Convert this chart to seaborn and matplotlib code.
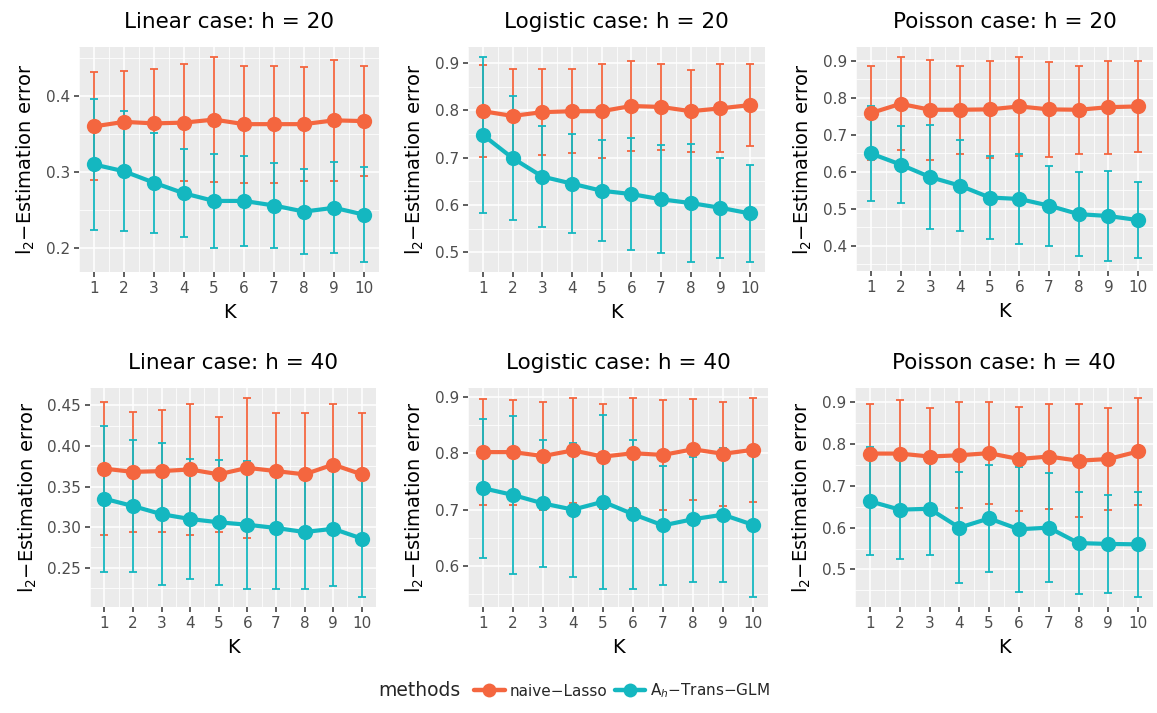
import numpy as np
import pandas as pd
import matplotlib
matplotlib.use("Agg")
import matplotlib.pyplot as plt
import seaborn as sns
from matplotlib.ticker import MultipleLocator, FormatStrFormatter
from matplotlib.lines import Line2D

# ---------------- data ----------------
K = [1, 2, 3, 4, 5, 6, 7, 8, 9, 10]
methods = ["naive\u2212Lasso", r"$\mathrm{A}_h$" + "\u2212Trans\u2212GLM"]

lin20_lasso_mean = [0.360, 0.366, 0.364, 0.365, 0.369, 0.363, 0.363, 0.363, 0.368, 0.367]
lin20_lasso_sd   = [0.071, 0.067, 0.072, 0.077, 0.082, 0.077, 0.077, 0.075, 0.080, 0.072]
lin20_trans_mean = [0.310, 0.301, 0.286, 0.272, 0.262, 0.262, 0.256, 0.248, 0.253, 0.244]
lin20_trans_sd   = [0.086, 0.079, 0.066, 0.058, 0.062, 0.059, 0.056, 0.056, 0.060, 0.062]

log20_lasso_mean = [0.798, 0.788, 0.796, 0.798, 0.798, 0.809, 0.807, 0.798, 0.804, 0.811]
log20_lasso_sd   = [0.097, 0.099, 0.091, 0.089, 0.099, 0.095, 0.090, 0.087, 0.093, 0.086]
log20_trans_mean = [0.748, 0.699, 0.660, 0.645, 0.630, 0.623, 0.612, 0.604, 0.594, 0.582]
log20_trans_sd   = [0.164, 0.131, 0.107, 0.104, 0.107, 0.118, 0.114, 0.124, 0.105, 0.102]

poi20_lasso_mean = [0.758, 0.783, 0.767, 0.767, 0.768, 0.776, 0.768, 0.767, 0.774, 0.776]
poi20_lasso_sd   = [0.128, 0.126, 0.135, 0.119, 0.132, 0.133, 0.129, 0.119, 0.126, 0.124]
poi20_trans_mean = [0.649, 0.619, 0.585, 0.562, 0.530, 0.526, 0.508, 0.485, 0.480, 0.469]
poi20_trans_sd   = [0.128, 0.105, 0.141, 0.122, 0.113, 0.122, 0.108, 0.113, 0.121, 0.102]

lin40_lasso_mean = [0.372, 0.368, 0.369, 0.371, 0.365, 0.373, 0.369, 0.365, 0.377, 0.365]
lin40_lasso_sd   = [0.082, 0.074, 0.075, 0.081, 0.071, 0.086, 0.072, 0.076, 0.074, 0.075]
lin40_trans_mean = [0.335, 0.326, 0.316, 0.310, 0.306, 0.303, 0.299, 0.294, 0.298, 0.286]
lin40_trans_sd   = [0.090, 0.081, 0.087, 0.074, 0.077, 0.079, 0.075, 0.070, 0.071, 0.072]

log40_lasso_mean = [0.802, 0.802, 0.795, 0.805, 0.794, 0.800, 0.797, 0.807, 0.799, 0.806]
log40_lasso_sd   = [0.094, 0.093, 0.096, 0.093, 0.093, 0.098, 0.097, 0.090, 0.092, 0.092]
log40_trans_mean = [0.738, 0.726, 0.711, 0.700, 0.714, 0.692, 0.672, 0.683, 0.691, 0.673]
log40_trans_sd   = [0.123, 0.140, 0.112, 0.119, 0.154, 0.132, 0.106, 0.111, 0.119, 0.128]

poi40_lasso_mean = [0.777, 0.777, 0.770, 0.773, 0.778, 0.764, 0.770, 0.760, 0.764, 0.782]
poi40_lasso_sd   = [0.118, 0.128, 0.116, 0.127, 0.122, 0.125, 0.125, 0.135, 0.122, 0.128]
poi40_trans_mean = [0.663, 0.643, 0.645, 0.600, 0.622, 0.596, 0.600, 0.563, 0.561, 0.560]
poi40_trans_sd   = [0.129, 0.118, 0.110, 0.133, 0.127, 0.149, 0.130, 0.121, 0.117, 0.126]

titles = ["Linear case: h = 20", "Logistic case: h = 20", "Poisson case: h = 20",
          "Linear case: h = 40", "Logistic case: h = 40", "Poisson case: h = 40"]

panels = [
    (lin20_lasso_mean, lin20_lasso_sd, lin20_trans_mean, lin20_trans_sd),
    (log20_lasso_mean, log20_lasso_sd, log20_trans_mean, log20_trans_sd),
    (poi20_lasso_mean, poi20_lasso_sd, poi20_trans_mean, poi20_trans_sd),
    (lin40_lasso_mean, lin40_lasso_sd, lin40_trans_mean, lin40_trans_sd),
    (log40_lasso_mean, log40_lasso_sd, log40_trans_mean, log40_trans_sd),
    (poi40_lasso_mean, poi40_lasso_sd, poi40_trans_mean, poi40_trans_sd),
]

# ---------------- style ----------------
sns.set_theme(style="darkgrid", rc={
    "axes.facecolor": "#EBEBEB",
    "grid.color": "white",
    "xtick.bottom": True,
    "ytick.left": True,
})
plt.rcParams["font.family"] = ["DejaVu Sans"]
plt.rcParams["mathtext.fontset"] = "dejavusans"

colors = ["#F4663F", "#14B7C0"]
palette = dict(zip(methods, colors))

W, H = 1157, 713
fig = plt.figure(figsize=(W / 100, H / 100), dpi=100)
fig.patch.set_facecolor("white")

# panel rectangles in pixels: x0, x1, y0(top), y1(bottom)
rects = [(79, 379, 47, 272), (468, 765, 47, 272), (856, 1153, 47, 271),
         (90, 376, 388, 607), (468, 768, 388, 607), (855, 1153, 388, 607)]
ysteps = [0.1, 0.1, 0.1, 0.05, 0.1, 0.1]
yfmts = ["%.1f", "%.1f", "%.1f", "%.2f", "%.1f", "%.1f"]

for i, ((lm, ls, tm, ts), rect) in enumerate(zip(panels, rects)):
    x0, x1, y0, y1 = rect
    ax = fig.add_axes([x0 / W, 1 - y1 / H, (x1 - x0) / W, (y1 - y0) / H])
    df = pd.DataFrame({
        "K": K + K,
        "error": lm + tm,
        "sd": ls + ts,
        "method": [methods[0]] * len(K) + [methods[1]] * len(K),
    })
    for m in methods:
        sub = df[df["method"] == m]
        ax.errorbar(sub["K"], sub["error"], yerr=sub["sd"], fmt="none",
                    ecolor=palette[m], elinewidth=1.3, capsize=2.8,
                    capthick=1.3, zorder=2)
    sns.lineplot(data=df, x="K", y="error", hue="method", palette=palette,
                 hue_order=methods, marker="o", markersize=11,
                 markeredgewidth=0, linewidth=3.0, legend=False,
                 errorbar=None, ax=ax, zorder=3)
    lo = (df["error"] - df["sd"]).min()
    hi = (df["error"] + df["sd"]).max()
    pad = 0.05 * (hi - lo)
    ax.set_ylim(lo - pad, hi + pad)
    ax.set_xlim(0.5, 10.5)
    ax.set_xticks(K)
    ax.set_xticks([k + 0.5 for k in K[:-1]] + [0.5], minor=True)
    ax.yaxis.set_major_locator(MultipleLocator(ysteps[i]))
    ax.yaxis.set_minor_locator(MultipleLocator(ysteps[i] / 2))
    ax.yaxis.set_major_formatter(FormatStrFormatter(yfmts[i]))
    ax.grid(which="major", color="white", linewidth=1.1)
    ax.grid(which="minor", color="white", linewidth=0.55)
    ax.set_axisbelow(True)
    for s in ax.spines.values():
        s.set_visible(False)
    ax.tick_params(which="major", length=3.5, width=1.1, color="#333333",
                   labelcolor="#4D4D4D", labelsize=11, pad=3)
    ax.tick_params(which="minor", length=0)
    ax.set_xlabel("K", fontsize=14, labelpad=5, color="black")
    ax.set_ylabel(r"$\mathrm{l}_2$" + "\u2212Estimation error", fontsize=14,
                  labelpad=6, color="black")
    ax.set_title(titles[i], fontsize=15.5, pad=14, color="black")

# legend
ly = 1 - 691 / H
fig.text(378 / W, ly, "methods", fontsize=13.5, va="center", ha="left")
handles = [Line2D([0], [0], color=c, lw=3.2, marker="o", ms=10, mew=0) for c in colors]
fig.legend(handles, methods, loc="center left", bbox_to_anchor=(474 / W, ly),
           ncol=2, frameon=False, fontsize=11, handlelength=2.0,
           columnspacing=0.5, handletextpad=0.3, borderaxespad=0, borderpad=0)

fig.savefig("out.png", dpi=100)
